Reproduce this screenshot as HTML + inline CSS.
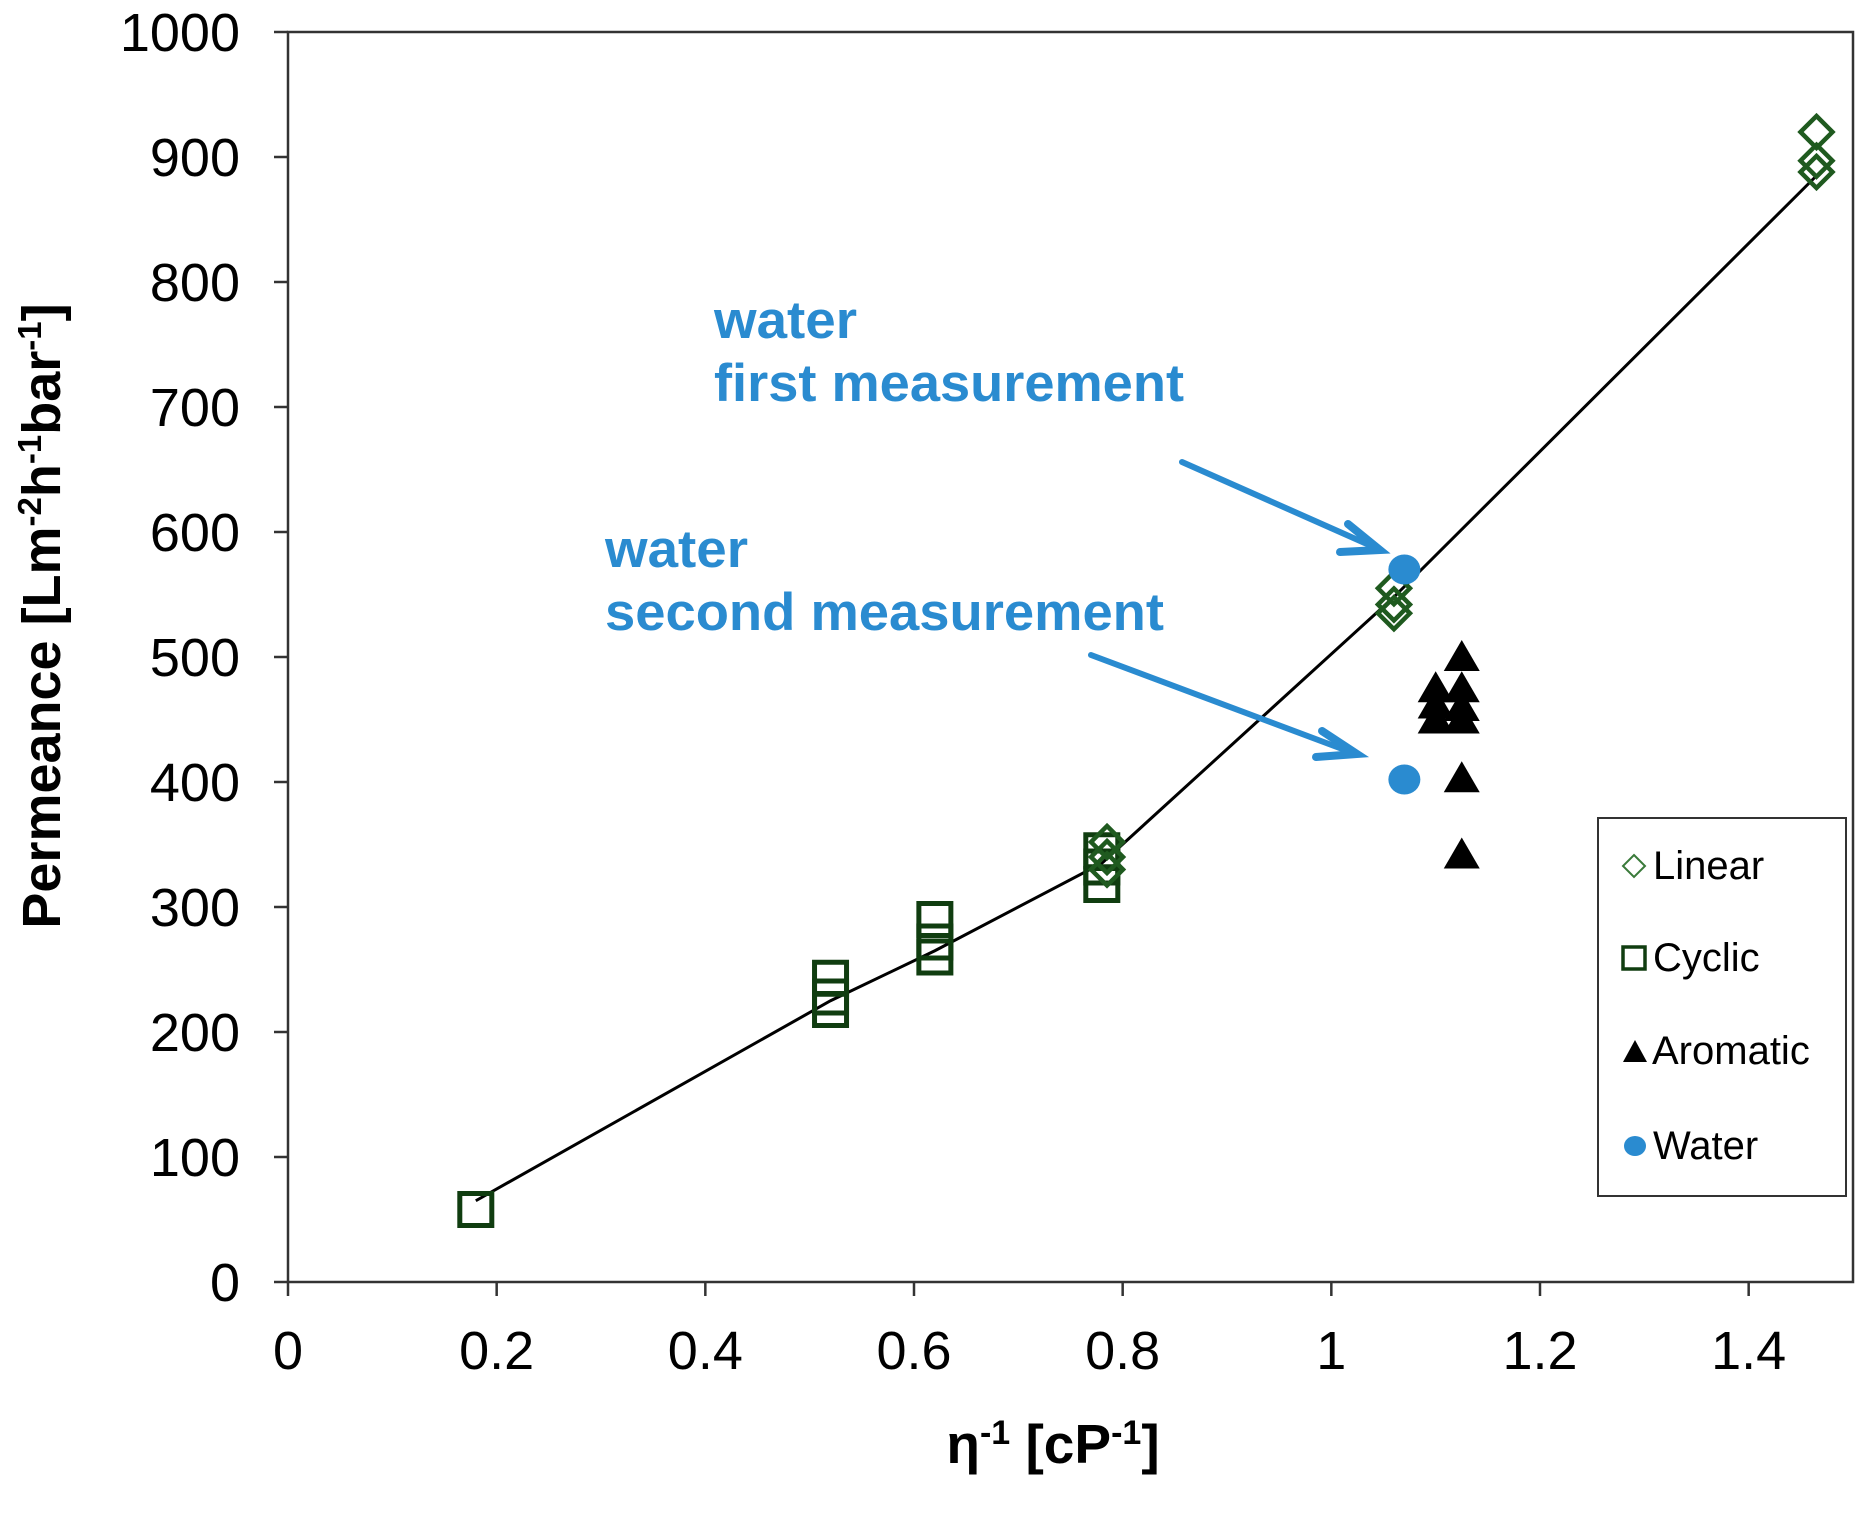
<!DOCTYPE html>
<html><head><meta charset="utf-8"><style>
body{margin:0;background:#fff}
svg{display:block;font-family:"Liberation Sans",Arial,sans-serif}
</style></head><body>
<svg id="chart" width="1862" height="1516" viewBox="0 0 1862 1516" xmlns="http://www.w3.org/2000/svg">
<g id="axes"></g>
<g id="marks"></g>
<text x="0" y="0" transform="translate(60,616) rotate(-90)" text-anchor="middle" font-size="54" font-weight="bold">Permeance [Lm<tspan font-size="33" dy="-19">-2</tspan><tspan dy="19">h</tspan><tspan font-size="33" dy="-19">-1</tspan><tspan dy="19">bar</tspan><tspan font-size="33" dy="-19">-1</tspan><tspan dy="19">]</tspan></text>
<text x="1053" y="1463" text-anchor="middle" font-size="55" font-weight="bold">η<tspan font-size="34" dy="-19">-1</tspan><tspan dy="19"> [cP</tspan><tspan font-size="34" dy="-19">-1</tspan><tspan dy="19">]</tspan></text>
<g fill="#2a8bd0" font-size="53" font-weight="bold">
<text x="714" y="338" textLength="143" lengthAdjust="spacingAndGlyphs">water</text><text x="714" y="401" textLength="470" lengthAdjust="spacingAndGlyphs">first measurement</text></g>
<g fill="#2a8bd0" font-size="53" font-weight="bold">
<text x="605" y="567" textLength="143" lengthAdjust="spacingAndGlyphs">water</text><text x="605" y="630" textLength="559" lengthAdjust="spacingAndGlyphs">second measurement</text></g>
<g stroke="#2a8bd0" stroke-width="6" fill="none" stroke-linecap="round">
<line x1="1182" y1="462" x2="1376" y2="548"/><polyline points="1348,524 1380,550 1340,552" stroke-width="8"/></g>
<g stroke="#2a8bd0" stroke-width="6" fill="none" stroke-linecap="round">
<line x1="1091" y1="655" x2="1353" y2="753"/><polyline points="1322,731 1357,754 1316,757" stroke-width="8"/></g>
<g>
<rect x="1598" y="818" width="248" height="378" fill="#fff" stroke="#333" stroke-width="2"/>
<path d="M1634,855 l11,11 l-11,11 l-11,-11z" fill="none" stroke="#3a7a3a" stroke-width="2"/>
<text x="1653" y="879" font-size="40">Linear</text>
<rect x="1623" y="947" width="22" height="22" fill="none" stroke="#103d10" stroke-width="3.5"/>
<text x="1653" y="971" font-size="40">Cyclic</text>
<path d="M1635,1040 l12,22 h-24z" fill="#000"/>
<text x="1652" y="1064" font-size="40">Aromatic</text>
<ellipse cx="1635" cy="1146" rx="11" ry="10" fill="#2a8bd0"/>
<text x="1653" y="1159" font-size="40">Water</text>
</g>
</svg>
<script>
const xTicks=[0,0.2,0.4,0.6,0.8,1,1.2,1.4];
const xTickLabels=["0","0.2","0.4","0.6","0.8","1","1.2","1.4"];
const yTicks=[0,100,200,300,400,500,600,700,800,900,1000];
const yTickLabels=["0","100","200","300","400","500","600","700","800","900","1000"];
const cyclicX=[0.18,0.52,0.52,0.52,0.62,0.62,0.62,0.78,0.78,0.78];
const cyclicY=[58,243,228,218,290,272,260,345,332,318];
const linearX=[0.785,0.785,0.785,1.06,1.06,1.06,1.465,1.465,1.465];
const linearY=[352,340,330,555,542,535,920,897,888];
const aromaticX=[1.10,1.10,1.10,1.125,1.125,1.125,1.125,1.125,1.125];
const aromaticY=[475,462,450,500,475,460,450,403,342];
const waterX=[1.07,1.07];
const waterY=[570,402];
const fitX=[0.18,0.52,0.62,0.78,1.06,1.465];
const fitY=[65,225,265,335,548,885];

const L=288,R=1853,T=32,B=1282,XMAX=1.5,YMAX=1000;
const sx=v=>L+v/XMAX*(R-L);
const sy=v=>B-v/YMAX*(B-T);
const NS="http://www.w3.org/2000/svg";
const axes=document.getElementById('axes'),marks=document.getElementById('marks');
function mk(tag,attrs,parent){const e=document.createElementNS(NS,tag);for(const k in attrs)e.setAttribute(k,attrs[k]);parent.appendChild(e);return e;}

const frame=mk('rect',{x:L,y:T,width:R-L,height:B-T,fill:'none',stroke:'#333','stroke-width':2.5},axes);


xTicks.forEach((v,i)=>{
  const t=mk('line',{x1:sx(v),x2:sx(v),y1:B,y2:B+14,stroke:'#333','stroke-width':2.5},axes);
  
  
  const lb=mk('text',{x:sx(v),y:1369,'text-anchor':'middle','font-size':54},axes);
  lb.textContent=xTickLabels[i];
  
  
});
yTicks.forEach((v,i)=>{
  const t=mk('line',{x1:L-14,x2:L,y1:sy(v),y2:sy(v),stroke:'#333','stroke-width':2.5},axes);
  
  
  const lb=mk('text',{x:240,y:sy(v)+19,'text-anchor':'end','font-size':54},axes);
  lb.textContent=yTickLabels[i];
  
  
});
const fit=mk('polyline',{points:fitX.map((x,i)=>sx(x)+','+sy(fitY[i])).join(' '),fill:'none',stroke:'#000','stroke-width':3},marks);


cyclicX.forEach((x,i)=>{
  const s=32,e=mk('rect',{x:sx(x)-s/2,y:sy(cyclicY[i])-s/2,width:s,height:s,fill:'none',stroke:'#103d10','stroke-width':5},marks);
  
  
});
linearX.forEach((x,i)=>{
  const cx=sx(x),cy=sy(linearY[i]),r=16;
  const e=mk('path',{d:`M${cx},${cy-r} L${cx+r},${cy} L${cx},${cy+r} L${cx-r},${cy} Z`,fill:'none',stroke:'#1f5a1f','stroke-width':4.5},marks);
  
  
});
aromaticX.forEach((x,i)=>{
  const cx=sx(x),cy=sy(aromaticY[i]);
  const e=mk('path',{d:`M${cx},${cy-17} L${cx+18},${cy+14} L${cx-18},${cy+14} Z`,fill:'#000'},marks);
  
  
});
waterX.forEach((x,i)=>{
  const e=mk('ellipse',{cx:sx(x),cy:sy(waterY[i]),rx:16,ry:15,fill:'#2a8bd0'},marks);
  
  
});
</script>
</body></html>
